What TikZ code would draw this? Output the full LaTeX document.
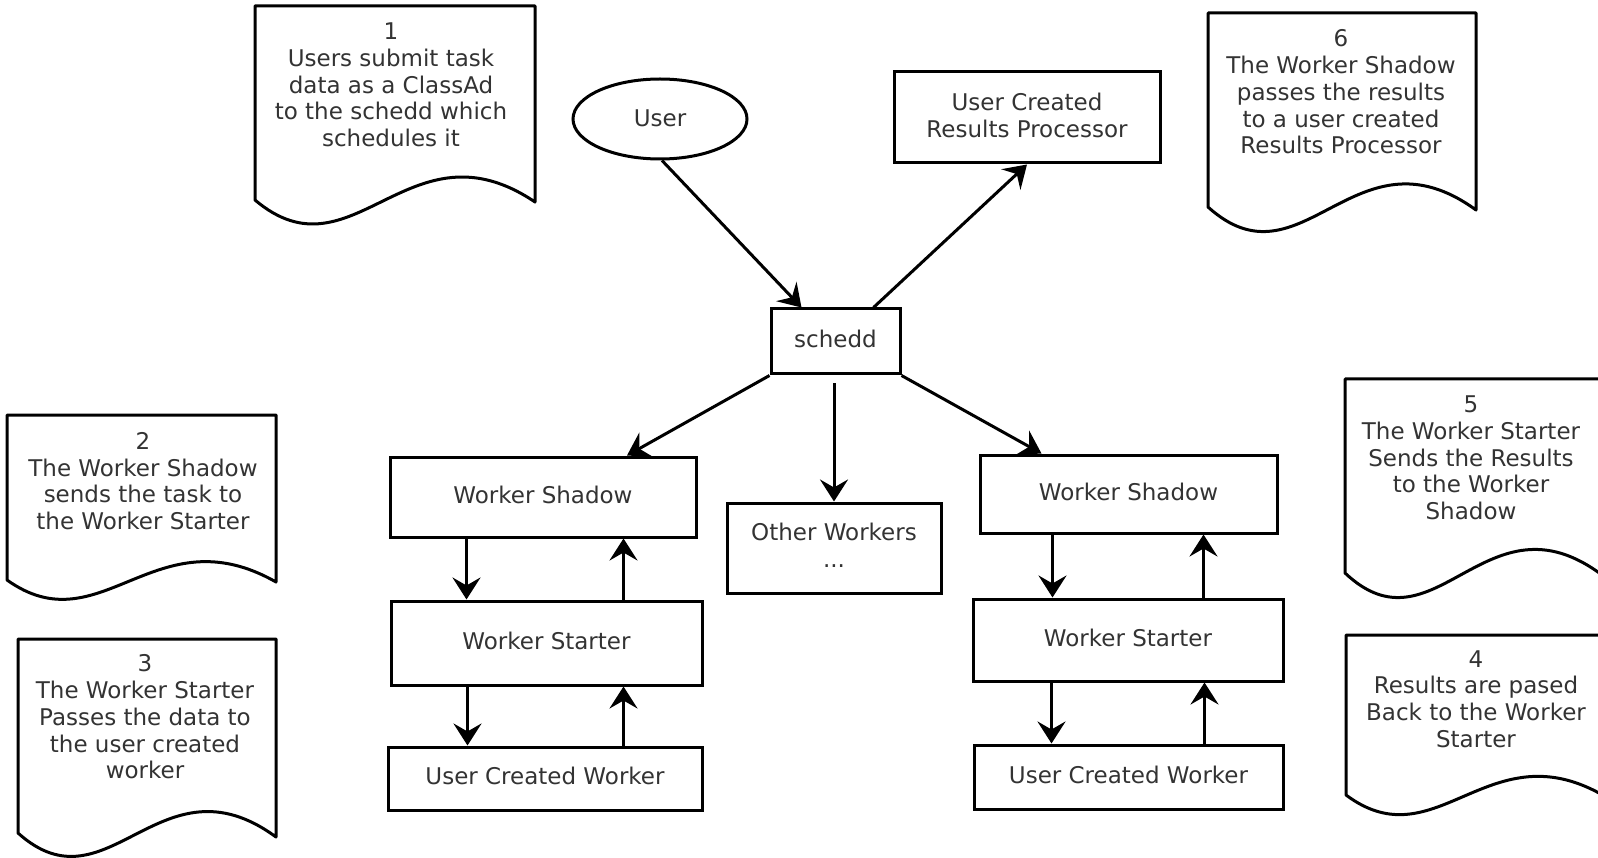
\documentclass[tikz,border=0pt]{standalone}
\usepackage{fontspec}
\setmainfont{DejaVu Sans}
\usetikzlibrary{arrows.meta,shapes.geometric,calc}
\begin{document}
\begin{tikzpicture}[x=1pt,y=-1pt,
  every node/.style={font=\fontsize{23}{26.7}\selectfont, text=black!80, align=center, inner sep=0pt},
  box/.style={draw=black, line width=3pt, rectangle, text depth=5pt},
  docline/.style={draw=black, line width=3pt, line join=round},
  arr/.style={-{Stealth[length=22pt,width=28pt,inset=8pt]}, line width=3pt, draw=black}]
\useasboundingbox (0,0) rectangle (1598,858);
\fill[white] (0,0) rectangle (1598,858);
\clip (0,0) rectangle (1598,858);

% document shapes
\draw[docline] (255,6) -- (535,6) -- (535,202) .. controls (409,117) and (353,283) .. (255,200) -- cycle;
\draw[docline] (1208,13) -- (1476,13) -- (1476,210) .. controls (1355,122) and (1302,292) .. (1208,207) -- cycle;
\draw[docline] (7,415) -- (276,415) -- (276,582) .. controls (155,513) and (101,647) .. (7,580) -- cycle;
\draw[docline] (18,639) -- (276,639) -- (276,837) .. controls (160,752) and (108,914) .. (18,833) -- cycle;
\draw[docline] (1345,379) -- (1602,379) -- (1602,575) .. controls (1486,488) and (1435,658) .. (1345,573) -- cycle;
\draw[docline] (1346,635) -- (1606,635) -- (1606,797) .. controls (1489,727) and (1437,863) .. (1346,795) -- cycle;

\node (doc1) at (391,85) {1\\Users submit task\\data as a ClassAd\\to the schedd which\\schedules it};
\node (doc6) at (1341,92) {6\\The Worker Shadow\\passes the results\\to a user created\\Results Processor};
\node (doc2) at (143,481) {2\\The Worker Shadow\\sends the task to\\the Worker Starter};
\node (doc3) at (145,717) {3\\The Worker Starter\\Passes the data to\\the user created\\worker};
\node (doc5) at (1471,458) {5\\The Worker Starter\\Sends the Results\\to the Worker\\Shadow};
\node (doc4) at (1476,699) {4\\Results are pased\\Back to the Worker\\Starter};

% main nodes
\node[draw=black, line width=3pt, ellipse, minimum width=174pt, minimum height=80pt, text depth=2pt] (user) at (660,119) {User};
\node[box, minimum width=266pt, minimum height=91pt] (res) at (1027,117.5) {User Created\\Results Processor};
\node[box, minimum width=129pt, minimum height=65pt] (schedd) at (835.5,341.5) {schedd};
\node[box, minimum width=214pt, minimum height=90pt] (other) at (834,548) {Other Workers\\...};

\node[box, minimum width=306pt, minimum height=80pt] (lws) at (543,497) {Worker Shadow};
\node[box, minimum width=311pt, minimum height=84pt] (lwst) at (546.5,643) {Worker Starter};
\node[box, minimum width=314pt, minimum height=63pt] (lucw) at (545,778.5) {User Created Worker};

\node[box, minimum width=297pt, minimum height=78pt] (rws) at (1128.5,494) {Worker Shadow};
\node[box, minimum width=310pt, minimum height=82pt] (rwst) at (1128,640) {Worker Starter};
\node[box, minimum width=309pt, minimum height=64pt] (rucw) at (1128.5,777) {User Created Worker};

% connectors
\draw[arr] ($(user.south)+(2,0)$) -- ($(schedd.north west)+(32,0)$);
\draw[arr] ($(schedd.north east)+(-28,0)$) -- (res.south);
\draw[arr] (schedd.south west) -- ($(lws.north)+(84,0)$);
\draw[arr] ($(other.north |- schedd.south)+(0,8)$) -- (other.north);
\draw[arr] (schedd.south east) -- ($(rws.north west)+(63,0)$);

\coordinate (a1) at ($(lws.south west)+(78,0)$);
\coordinate (a2) at ($(lwst.north west)+(234,0)$);
\coordinate (a3) at ($(lwst.south west)+(78,0)$);
\coordinate (a4) at ($(lucw.north west)+(237,0)$);
\draw[arr] (a1) -- (a1 |- lwst.north);
\draw[arr] (a2) -- (a2 |- lws.south);
\draw[arr] (a3) -- (a3 |- lucw.north);
\draw[arr] (a4) -- (a4 |- lwst.south);

\coordinate (b1) at ($(rws.south west)+(74,0)$);
\coordinate (b2) at ($(rwst.north west)+(232,0)$);
\coordinate (b3) at ($(rwst.south west)+(80,0)$);
\coordinate (b4) at ($(rucw.north west)+(232,0)$);
\draw[arr] (b1) -- (b1 |- rwst.north);
\draw[arr] (b2) -- (b2 |- rws.south);
\draw[arr] (b3) -- (b3 |- rucw.north);
\draw[arr] (b4) -- (b4 |- rwst.south);
\end{tikzpicture}
\end{document}
